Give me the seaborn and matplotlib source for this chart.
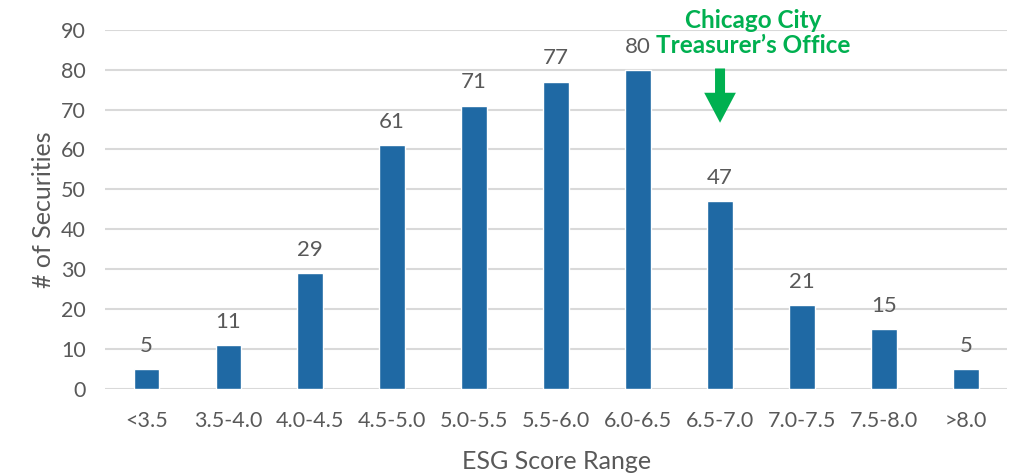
import pandas as pd
import seaborn as sns
import matplotlib.pyplot as plt

ranges = ['<3.5', '3.5-4.0', '4.0-4.5', '4.5-5.0', '5.0-5.5', '5.5-6.0',
          '6.0-6.5', '6.5-7.0', '7.0-7.5', '7.5-8.0', '>8.0']
counts = [5, 11, 29, 61, 71, 77, 80, 47, 21, 15, 5]

df = pd.DataFrame({'range': ranges, 'count': counts})

sns.set_theme(style='white')
plt.rcParams['font.family'] = ['Lato', 'DejaVu Sans']

grey = '#595959'
green = '#00B050'

fig, ax = plt.subplots(figsize=(10.12, 4.73), dpi=100)
fig.subplots_adjust(left=0.104, right=0.995, top=0.937, bottom=0.178)

sns.barplot(x='range', y='count', data=df, color='#1F69A4', width=0.31,
            saturation=1, ax=ax, zorder=3)

for i, v in enumerate(counts):
    ax.text(i, v + 3.3, str(v), ha='center', va='bottom', fontsize=16, color=grey)

ax.set_ylim(0, 90)
ax.set_xlim(-0.5, 10.5)
ax.set_yticks(range(0, 91, 10))
ax.yaxis.grid(True, color='#D9D9D9', linewidth=1.5, zorder=0)
ax.xaxis.grid(False)
sns.despine(left=True, bottom=True)
ax.tick_params(axis='both', length=0, labelsize=15.5, labelcolor=grey)
ax.tick_params(axis='x', pad=16)
ax.tick_params(axis='y', pad=14)

ax.set_xlabel('ESG Score Range', fontsize=18, color=grey, labelpad=14)
ax.set_ylabel('# of Securities', fontsize=18, color=grey, labelpad=4)

# callout
ax.text(7.4, 89.3, 'Chicago City\nTreasurer\u2019s Office', ha='center', va='center',
        fontsize=17.5, fontweight='bold', color=green, linespacing=1.1, clip_on=False)
ax.annotate('', xy=(7, 66), xytext=(7, 81),
            arrowprops=dict(arrowstyle='simple,head_width=1.9,head_length=1.8,tail_width=0.6',
                            color=green, lw=0))

plt.savefig('out.png', dpi=100)
